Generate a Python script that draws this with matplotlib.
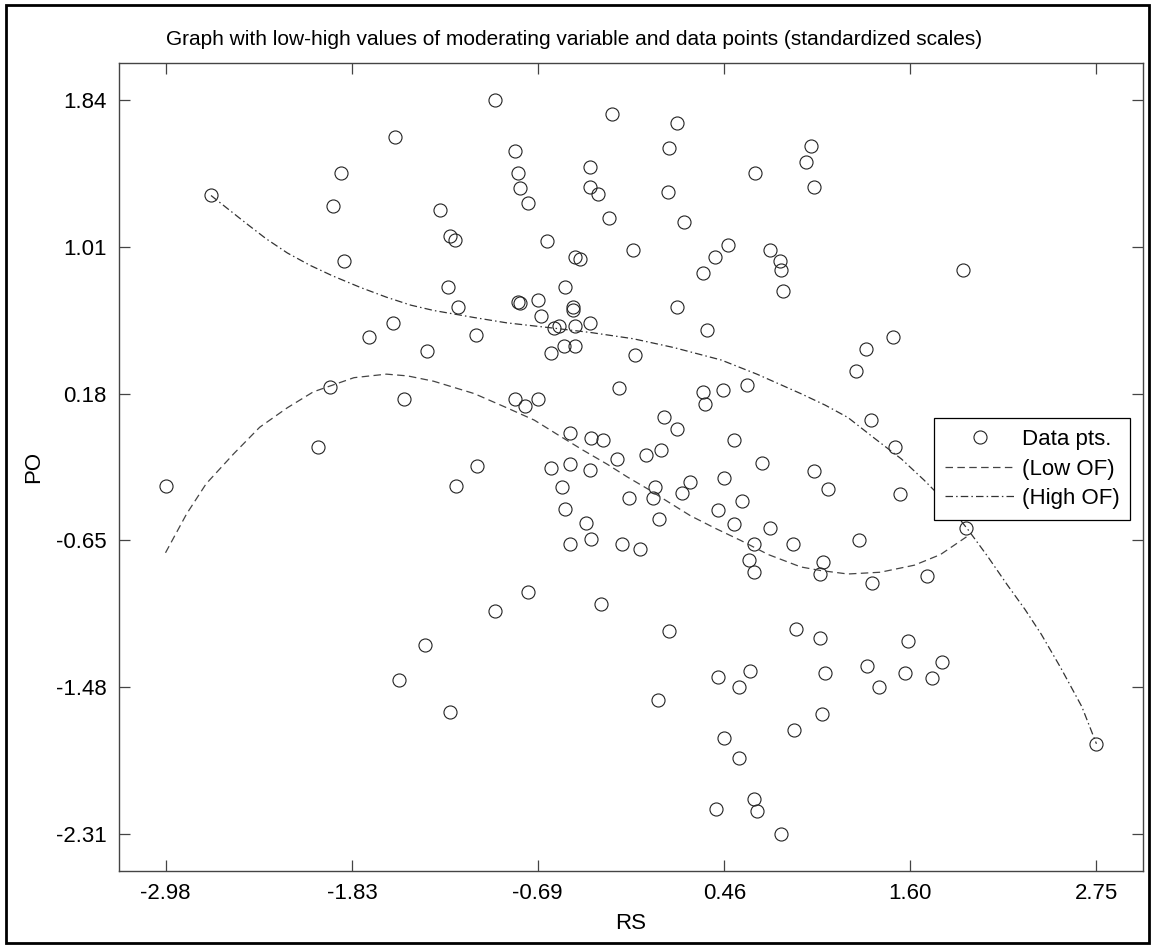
import matplotlib
matplotlib.use("Agg")
import matplotlib.pyplot as plt
from matplotlib.patches import Rectangle

plt.rcParams['font.family'] = ['Liberation Sans', 'DejaVu Sans']

# data points (RS, PO), standardized
rs = [-1.57, -1.90, -2.70, -1.95, -1.29, -1.23, -1.20, -1.88, -1.24, -1.18, -1.58, -1.73, -1.37,
      -0.95, -0.23, 0.17, 0.12, -0.83, -0.81, -0.37, 0.65, -0.37, -0.32, -0.80, -0.75, 0.11,
      -0.25, 0.21, -0.63, -0.46, -0.43, -0.10, 0.48, 0.40, 0.33, 0.74, 0.80, 0.81, 0.82,
      -0.52, -0.81, -0.80, -0.69, -0.67, -0.47, -0.47, -0.37, -0.46, -0.59, -0.56, -1.07,
      0.17, 0.35, -0.61, -0.53, -0.46, -0.09,
      0.99, 0.96, 1.01, 1.93, 1.50, 1.33,
      -1.97, -1.51, -2.04, -2.98, -1.19,
      -0.19, 0.33, 0.34, 0.45, 0.60, -0.83, -0.77, -0.69, 0.09, 0.17, 0.52, -0.49, -0.36,
      -0.29, -0.02, 0.07, -0.20, 0.69, -1.06, -0.61, -0.49, -0.37, -0.54, 0.03, 0.02, -0.13,
      0.20, 0.25, 0.46, 0.57, 0.42, -0.52, 0.06, -0.39, 0.52, 0.74, 0.88, -0.49, -0.36,
      -0.17, -0.06, 0.64, 0.61, 0.64, -0.75, -0.95, -0.30,
      1.27, 1.36, 1.51, 1.01, 1.10, 1.54, 1.95, 1.29, 1.07, 1.05, 1.37, 1.71,
      -1.38, -1.54, -1.23,
      0.12, 0.42, 0.62, 0.55, 0.05, 0.46, 0.55, 0.64, 0.66, 0.41, 0.81,
      0.90, 1.05, 1.59, 1.80, 1.34, 1.08, 1.57, 1.74, 1.41, 1.06, 0.89, 2.75]
po = [1.63, 1.43, 1.30, 1.24, 1.22, 1.07, 1.05, 0.93, 0.78, 0.67, 0.58, 0.50, 0.42,
      1.84, 1.76, 1.71, 1.57, 1.55, 1.43, 1.46, 1.43, 1.35, 1.31, 1.34, 1.26, 1.32,
      1.17, 1.15, 1.04, 0.95, 0.94, 0.99, 1.02, 0.95, 0.86, 0.99, 0.93, 0.88, 0.76,
      0.78, 0.70, 0.69, 0.71, 0.62, 0.67, 0.65, 0.58, 0.56, 0.55, 0.56, 0.51,
      0.67, 0.54, 0.41, 0.45, 0.45, 0.40,
      1.58, 1.49, 1.35, 0.88, 0.50, 0.43,
      0.22, 0.15, -0.12, -0.34, -0.34,
      0.21, 0.19, 0.12, 0.20, 0.23, 0.15, 0.11, 0.15, 0.05, -0.02, -0.08, -0.04, -0.07,
      -0.08, -0.17, -0.14, -0.19, -0.21, -0.23, -0.24, -0.22, -0.25, -0.35, -0.35, -0.41, -0.41,
      -0.38, -0.32, -0.30, -0.43, -0.48, -0.47, -0.53, -0.55, -0.56, -0.58, -0.67, -0.67, -0.64,
      -0.67, -0.70, -0.67, -0.76, -0.83, -0.94, -1.05, -1.01,
      0.31, 0.03, -0.12, -0.26, -0.36, -0.39, -0.58, -0.65, -0.77, -0.84, -0.89, -0.85,
      -1.24, -1.44, -1.62,
      -1.16, -1.42, -1.39, -1.48, -1.55, -1.77, -1.88, -2.11, -2.18, -2.17, -2.31,
      -1.15, -1.20, -1.22, -1.34, -1.36, -1.40, -1.40, -1.43, -1.48, -1.63, -1.72, -1.80]

# fitted line at low OF
low_rs = [-2.98, -2.85, -2.73, -2.56, -2.40, -2.23, -2.07, -1.82, -1.62, -1.49, -1.33, -1.08,
          -0.88, -0.71, -0.57, -0.41, -0.26, -0.14, -0.01, 0.11, 0.25, 0.40, 0.56, 0.73,
          0.93, 1.05, 1.22, 1.42, 1.63, 1.79, 1.95]
low_po = [-0.72, -0.50, -0.33, -0.16, -0.01, 0.10, 0.19, 0.27, 0.29, 0.28, 0.25, 0.18,
          0.10, 0.03, -0.05, -0.14, -0.22, -0.29, -0.36, -0.43, -0.51, -0.58, -0.65, -0.73,
          -0.80, -0.82, -0.84, -0.83, -0.79, -0.73, -0.63]

# fitted line at high OF
high_rs = [-2.70, -2.59, -2.48, -2.36, -2.23, -2.09, -1.95, -1.78, -1.62, -1.47, -1.33, -1.08,
           -0.88, -0.59, -0.36, -0.10, 0.15, 0.44, 0.66, 0.93, 1.08, 1.22, 1.38, 1.55, 1.69,
           1.83, 1.96, 2.08, 2.20, 2.31, 2.41, 2.53, 2.66, 2.75]
high_po = [1.30, 1.22, 1.14, 1.055, 0.975, 0.905, 0.845, 0.78, 0.725, 0.68, 0.65, 0.61,
           0.58, 0.55, 0.525, 0.49, 0.44, 0.37, 0.29, 0.18, 0.115, 0.045, -0.07, -0.19, -0.31,
           -0.44, -0.59, -0.74, -0.90, -1.04, -1.18, -1.37, -1.59, -1.80]

xtick_vals = [-2.98, -1.83, -0.69, 0.46, 1.60, 2.75]
ytick_vals = [-2.31, -1.48, -0.65, 0.18, 1.01, 1.84]

fig = plt.figure(figsize=(11.55, 9.46), dpi=100)
ax = fig.add_axes([0.1030, 0.0796, 0.8866, 0.8535])

fs = 16
ax.plot(rs, po, linestyle='none', marker='o', markersize=9.4, markerfacecolor='none',
        markeredgecolor='#222222', markeredgewidth=0.8, label='Data pts.')
ax.plot(low_rs, low_po, color='#444444', linewidth=0.9, dashes=(6, 3.5), label='(Low OF)')
ax.plot(high_rs, high_po, color='#333333', linewidth=0.9, dashes=(6, 2.5, 1.2, 2.5),
        label='(High OF)')

xr = xtick_vals[-1] - xtick_vals[0]
yr = ytick_vals[-1] - ytick_vals[0]
ax.set_xlim(xtick_vals[0] - 0.05 * xr, xtick_vals[-1] + 0.05 * xr)
ax.set_ylim(ytick_vals[0] - 0.05 * yr, ytick_vals[-1] + 0.05 * yr)
ax.set_xticks(xtick_vals, ['%.2f' % v for v in xtick_vals])
ax.set_yticks(ytick_vals, ['%.2f' % v for v in ytick_vals])
ax.tick_params(direction='in', length=8, width=0.9, color='#444444', labelsize=fs,
               top=True, right=True, pad=9)
for s in ax.spines.values():
    s.set_color('#444444')
    s.set_linewidth(1.0)

ax.set_xlabel('RS', fontsize=fs, labelpad=6)
ax.set_ylabel('PO', fontsize=fs, labelpad=8)
fig.text(0.497, 0.958, 'Graph with low-high values of moderating variable and data points '
         '(standardized scales)', ha='center', va='center', fontsize=15)

leg = ax.legend(loc='center', bbox_to_anchor=(0.793, 0.435, 0.1975, 0.125), fontsize=fs,
                frameon=True, fancybox=False, framealpha=1, edgecolor='black',
                handlelength=3.15, handletextpad=0.3, borderpad=0.5, labelspacing=0.38,
                borderaxespad=0)
leg.get_frame().set_linewidth(0.9)

# outer frame of the figure
fig.patches.append(Rectangle((0.005, 0.003), 0.99, 0.992, transform=fig.transFigure,
                             fill=False, edgecolor='black', linewidth=2))

fig.savefig('out.png', dpi=100)
